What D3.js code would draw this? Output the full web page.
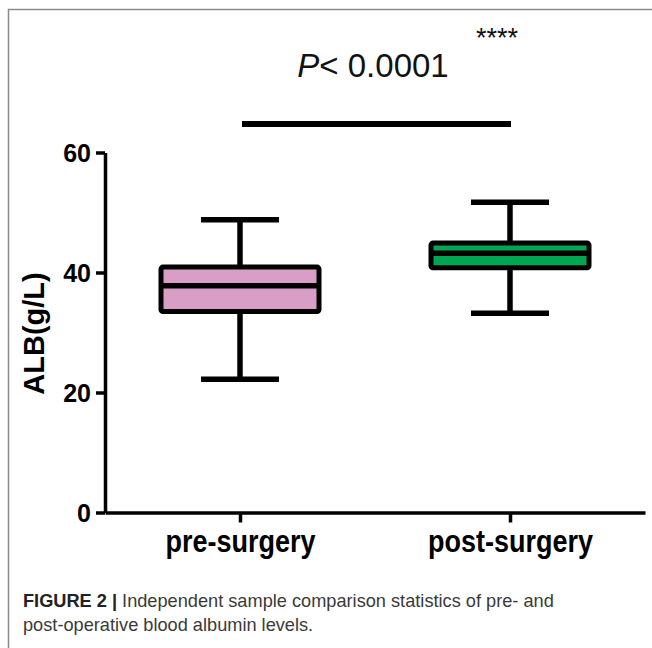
<!DOCTYPE html>
<html>
<head>
<meta charset="utf-8">
<script src="https://cdn.jsdelivr.net/npm/d3@7"></script>
<style>
  html, body { margin: 0; padding: 0; background: #fff; }
  svg { display: block; }
</style>
</head>
<body>
<script>
// ---- data ----
const categories = ["pre-surgery", "post-surgery"];
const whiskerMin = [22.2, 33.2];
const q1 = [33.5, 40.8];
const median = [37.8, 43.2];
const q3 = [40.9, 44.9];
const whiskerMax = [48.8, 51.7];
const yTicks = [0, 20, 40, 60];
const yTitle = "ALB(g/L)";
const pLabel = ["P", "< 0.0001"];
const starsLabel = "****";
const captionBold = "FIGURE 2 |";
const captionLine1 = " Independent sample comparison statistics of pre- and";
const captionLine2 = "post-operative blood albumin levels.";

// ---- styles ----
const fills = ["#d99ec6", "#00a651"];
const W = 652, H = 648;

const svg = d3.select("body").append("svg")
  .attr("width", W).attr("height", H);

// frame (left + top border)
svg.append("path")
  .attr("d", `M8.5,${H} L8.5,9.5 L${W},9.5`)
  .attr("fill", "none").attr("stroke", "#8a8a8a").attr("stroke-width", 1.5);

const y = d3.scaleLinear().domain([0, 60]).range([512.5, 152.5]);
const x = d3.scalePoint().domain(categories).range([105, 645]).padding(0.5);

// y axis
const yAxis = svg.append("g")
  .attr("transform", "translate(105,0)")
  .call(d3.axisLeft(y).tickValues(yTicks).tickSize(9).tickPadding(5).tickSizeOuter(0));
yAxis.select(".domain").attr("stroke", "#000").attr("stroke-width", 3.5);
yAxis.selectAll(".tick line").attr("stroke", "#000").attr("stroke-width", 3.5);
yAxis.selectAll(".tick text")
  .attr("fill", "#000")
  .style("font-family", "Arial, 'Liberation Sans', sans-serif")
  .style("font-weight", "bold").style("font-size", "25px")
  .attr("dy", "0.36em");

// x axis
const xAxis = svg.append("g")
  .attr("transform", `translate(0,${y(0)})`)
  .call(d3.axisBottom(x).tickSize(10).tickPadding(10).tickSizeOuter(0));
xAxis.select(".domain").attr("stroke", "#000").attr("stroke-width", 3.5);
xAxis.selectAll(".tick line").attr("stroke", "#000").attr("stroke-width", 3.5);
xAxis.selectAll(".tick text")
  .attr("fill", "#000")
  .style("font-family", "Arial, 'Liberation Sans', sans-serif")
  .style("font-weight", "bold").style("font-size", "27px")
  .attr("y", 0).attr("dy", 0)
  .attr("transform", "translate(0,39.5) scale(1,1.15)");

// y title
svg.append("text")
  .attr("transform", `translate(44,${(y(20)+y(40))/2 + 1}) rotate(-90)`)
  .attr("text-anchor", "middle")
  .style("font-family", "Arial, 'Liberation Sans', sans-serif")
  .style("font-weight", "bold").style("font-size", "29px")
  .attr("fill", "#000")
  .text(yTitle);

// boxes
const boxW = 158, capW = 78;
const g = svg.append("g");
categories.forEach((c, i) => {
  const cx = x(c);
  g.append("line").attr("x1", cx).attr("x2", cx)
    .attr("y1", y(whiskerMax[i])).attr("y2", y(q3[i]))
    .attr("stroke", "#000").attr("stroke-width", 5.5);
  g.append("line").attr("x1", cx).attr("x2", cx)
    .attr("y1", y(q1[i])).attr("y2", y(whiskerMin[i]))
    .attr("stroke", "#000").attr("stroke-width", 5.5);
  [whiskerMax[i], whiskerMin[i]].forEach(v => {
    g.append("line").attr("x1", cx - capW/2).attr("x2", cx + capW/2)
      .attr("y1", y(v)).attr("y2", y(v))
      .attr("stroke", "#000").attr("stroke-width", 5.5);
  });
  g.append("rect")
    .attr("x", cx - boxW/2).attr("width", boxW)
    .attr("y", y(q3[i])).attr("height", y(q1[i]) - y(q3[i]))
    .attr("fill", fills[i]).attr("stroke", "#000").attr("stroke-width", 5)
    .attr("rx", 2).attr("stroke-linejoin", "round");
  g.append("line").attr("x1", cx - boxW/2).attr("x2", cx + boxW/2)
    .attr("y1", y(median[i])).attr("y2", y(median[i]))
    .attr("stroke", "#000").attr("stroke-width", 5.5);
});

// significance bar
svg.append("line")
  .attr("x1", x(categories[0]) + 2).attr("x2", x(categories[1]) + 1)
  .attr("y1", 124).attr("y2", 124)
  .attr("stroke", "#000").attr("stroke-width", 6);

const pText = svg.append("text")
  .attr("x", (x(categories[0]) + x(categories[1]))/2 - 2).attr("y", 77)
  .attr("text-anchor", "middle")
  .style("font-family", "Arial, 'Liberation Sans', sans-serif")
  .style("font-size", "33px").attr("fill", "#111");
pText.append("tspan").style("font-style", "italic").text(pLabel[0]);
pText.append("tspan").text(pLabel[1]);

svg.append("text")
  .attr("x", 497).attr("y", 47)
  .attr("text-anchor", "middle")
  .style("font-family", "Arial, 'Liberation Sans', sans-serif")
  .style("font-size", "27px").attr("fill", "#111")
  .text(starsLabel);

// caption
const cap = svg.append("text")
  .attr("x", 23).attr("y", 607)
  .style("font-family", "Arial, 'Liberation Sans', sans-serif")
  .style("font-size", "18.2px").attr("fill", "#3a3a3a");
cap.append("tspan").style("font-weight", "bold").attr("fill", "#222").text(captionBold);
cap.append("tspan").text(captionLine1);
svg.append("text")
  .attr("x", 23).attr("y", 631)
  .style("font-family", "Arial, 'Liberation Sans', sans-serif")
  .style("font-size", "18.2px").attr("fill", "#3a3a3a")
  .text(captionLine2);
</script>
</body>
</html>
